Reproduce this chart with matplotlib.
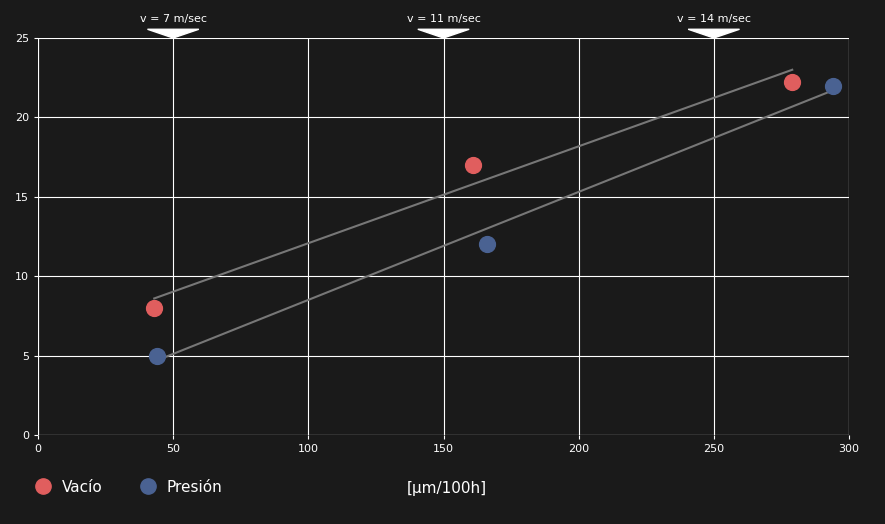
import matplotlib.pyplot as plt
from matplotlib.patches import Polygon
from matplotlib.lines import Line2D

bg = "#1a1a1a"
vacio_x = [43, 161, 279]
vacio_y = [8, 17, 22.2]
presion_x = [44, 166, 294]
presion_y = [5, 12, 22]
vacio_trend_x = [43, 279]
vacio_trend_y = [8.6, 23.0]
presion_trend_x = [44, 294]
presion_trend_y = [4.7, 21.7]
speed_x = [50, 150, 250]
speed_labels = ["v = 7 m/sec", "v = 11 m/sec", "v = 14 m/sec"]

fig = plt.figure(figsize=(8.85, 5.24), dpi=100, facecolor=bg)
ax = fig.add_axes([38/885, 89/524, 811/885, 397/524], facecolor=bg)
ax.set_xlim(0, 300)
ax.set_ylim(0, 25)
ax.set_xticks(range(0, 301, 50))
ax.set_yticks(range(0, 26, 5))
ax.grid(True, color="white", linewidth=0.8)
ax.tick_params(colors="white", labelsize=8, length=3)
for s in ax.spines.values():
    s.set_visible(False)
ax.axhline(0, color="white", linewidth=0.8)
ax.axvline(0, color="white", linewidth=0.8)
ax.axvline(300, color="white", linewidth=0.8)

ax.plot(vacio_trend_x, vacio_trend_y, color="#777777", linewidth=1.5)
ax.plot(presion_trend_x, presion_trend_y, color="#777777", linewidth=1.5)
ax.scatter(vacio_x, vacio_y, s=130, color="#e05e5e", zorder=3)
ax.scatter(presion_x, presion_y, s=130, color="#4a6292", zorder=3)

for x, lab in zip(speed_x, speed_labels):
    ax.text(x, 1.035, lab, transform=ax.get_xaxis_transform(), color="white",
            fontsize=8, ha="center", va="bottom")
    tri = Polygon([[x - 9.5, 1.022], [x + 9.5, 1.022], [x, 1.0]], closed=True,
                  transform=ax.get_xaxis_transform(), color="white", clip_on=False)
    ax.add_patch(tri)

handles = [Line2D([], [], marker="o", linestyle="", markersize=11, color="#e05e5e"),
           Line2D([], [], marker="o", linestyle="", markersize=11, color="#4a6292")]
fig.legend(handles, ["Vacío", "Presión"], loc="lower left", bbox_to_anchor=(0.016, 0.03),
           ncol=2, frameon=False, labelcolor="white", fontsize=11, handletextpad=0.2,
           columnspacing=2.0)
fig.text(0.505, 0.068, "[µm/100h]", color="white", fontsize=11, ha="center", va="center")

fig.savefig("out.png", dpi=100, facecolor=bg)
